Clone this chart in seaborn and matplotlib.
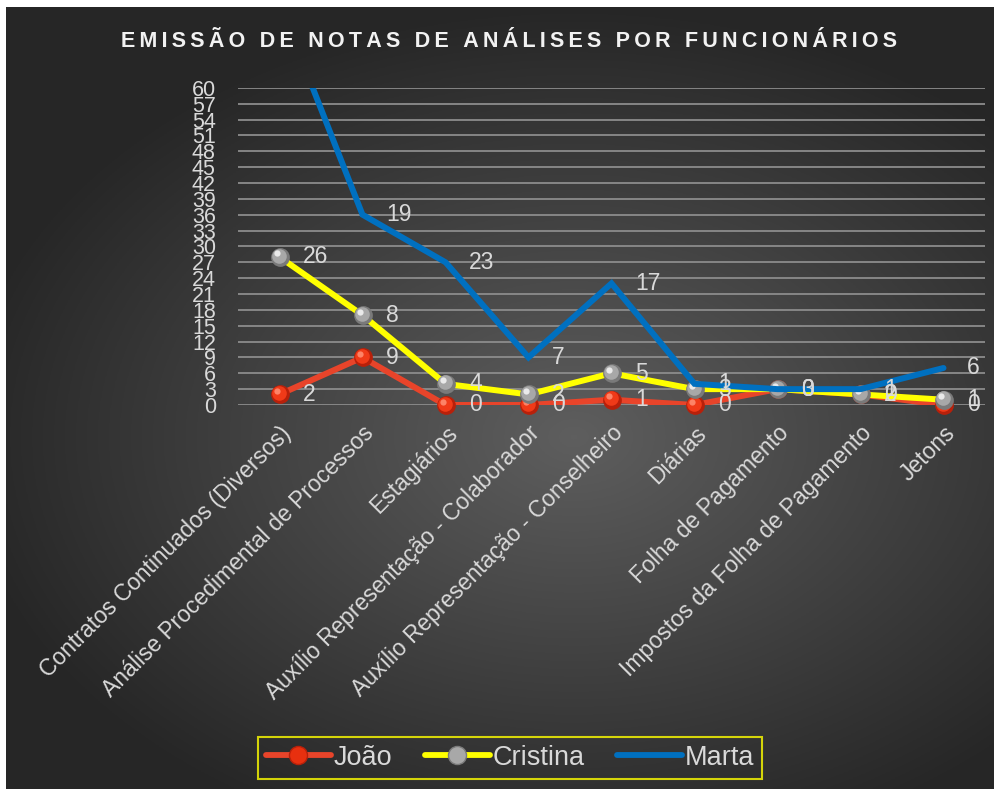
import numpy as np
import pandas as pd
import matplotlib
matplotlib.use("Agg")
import matplotlib.pyplot as plt
import matplotlib.transforms as mtransforms
from matplotlib.lines import Line2D
import seaborn as sns

categorias = [
    "Contratos Continuados (Diversos)",
    "Análise Procedimental de Processos",
    "Estagiários",
    "Auxílio Representação - Colaborador",
    "Auxílio Representação - Conselheiro",
    "Diárias",
    "Folha de Pagamento",
    "Impostos da Folha de Pagamento",
    "Jetons",
]
joao = [2, 9, 0, 0, 1, 0, 3, 2, 0]
cristina = [26, 8, 4, 2, 5, 3, 0, 0, 1]
marta = [48, 19, 23, 7, 17, 1, 0, 1, 6]
series = ["João", "Cristina", "Marta"]
y_ticks = list(range(0, 61, 3))

sns.set_theme(style="dark")
plt.rcParams['font.family'] = ['Liberation Sans', 'DejaVu Sans']

cores = {"João": "#e8442a", "Cristina": "#ffff00", "Marta": "#0070c0"}
ordem = {"João": 3, "Cristina": 5, "Marta": 7}
texto = "#d9d9d9"

# linhas empilhadas (como no gráfico original do Excel)
x = np.arange(len(categorias))
valores = {"João": joao, "Cristina": cristina, "Marta": marta}
acum = np.zeros(len(categorias))
linhas = []
for s in series:
    v = np.array(valores[s], dtype=float)
    acum = acum + v
    linhas.append(pd.DataFrame({"x": x, "y": acum.copy(), "valor": v, "serie": s}))
df = pd.concat(linhas, ignore_index=True)

fig = plt.figure(figsize=(10, 7.91), dpi=100)
fig.patch.set_facecolor("white")

# fundo com degradê radial
bg = fig.add_axes([0.006, 0.003, 0.988, 0.988], zorder=-10)
gx, gy = np.meshgrid(np.linspace(-1, 1, 400), np.linspace(-1, 1, 320))
r = np.sqrt(((gx - 0.15) / 1.25) ** 2 + ((gy - 0.1) / 1.1) ** 2)
r = np.clip(r, 0, 1)
c0 = np.array([0.37, 0.37, 0.37])
c1 = np.array([0.15, 0.15, 0.15])
img = c0[None, None, :] * (1 - r[..., None]) + c1[None, None, :] * r[..., None]
bg.imshow(img, aspect="auto", extent=[0, 1, 0, 1])
bg.axis("off")

ax = fig.add_axes([0.238, 0.488, 0.747, 0.401])
ax.set_facecolor("none")

for s in series:
    d = df[df["serie"] == s]
    sns.lineplot(data=d, x="x", y="y", color=cores[s], linewidth=4.3,
                 ax=ax, zorder=ordem[s],
                 solid_capstyle="round", solid_joinstyle="miter")

# marcadores em forma de esfera
marc = {"João": ("#b8200a", "#f03a18", "#ff8c70"),
        "Cristina": ("#7a7a7a", "#a8a8a8", "#f2f2f2")}
for s, (escuro, medio, claro) in marc.items():
    d = df[df["serie"] == s]
    z = ordem[s] + 1
    ax.plot(d["x"], d["y"], "o", ms=13.5, color=escuro, mec="none", zorder=z, clip_on=False)
    t1 = mtransforms.offset_copy(ax.transData, fig=fig, x=-0.5, y=1, units="points")
    ax.plot(d["x"], d["y"], "o", ms=10.5, color=medio, mec="none", zorder=z, transform=t1, clip_on=False)
    t2 = mtransforms.offset_copy(ax.transData, fig=fig, x=-1.5, y=2.5, units="points")
    ax.plot(d["x"], d["y"], "o", ms=4.5, color=claro, mec="none", zorder=z, alpha=0.9,
            transform=t2, clip_on=False)

# rótulos de dados
for _, row in df.iterrows():
    if row["y"] > 60:
        continue
    ax.annotate(f"{int(row['valor'])}", (row["x"], row["y"]), xytext=(17, 0),
                textcoords="offset points", ha="left", va="center",
                fontsize=16.5, color=texto, zorder=9)

ax.set_xlim(-0.5, len(categorias) - 0.5)
ax.set_ylim(0, 60)
ax.set_yticks(y_ticks)
ax.set_yticklabels([str(t) for t in y_ticks], fontsize=15.5, color=texto)
ax.set_xticks(x)
ax.set_xticklabels(categorias, rotation=45, ha="right", rotation_mode="anchor",
                   fontsize=16.5, color=texto)
ax.tick_params(axis="x", length=0, pad=12)
ax.tick_params(axis="y", length=0, pad=16)
ax.grid(axis="y", color="#8c8c8c", linewidth=1.3)
ax.grid(axis="x", visible=False)
for sp in ax.spines.values():
    sp.set_visible(False)
ax.set_xlabel("")
ax.set_ylabel("")

titulo = "EMISSÃO DE NOTAS DE ANÁLISES POR FUNCIONÁRIOS"
titulo = "\u2009".join(titulo)
fig.text(0.509, 0.947, titulo, ha="center", va="center", fontsize=15.5,
         fontweight="bold", color="#f2f2f2")

handles = [
    Line2D([], [], color=cores["João"], lw=4.2, marker="o", ms=13,
           mfc="#e8300f", mec="#b8200a", label="João"),
    Line2D([], [], color=cores["Cristina"], lw=4.2, marker="o", ms=13,
           mfc="#a8a8a8", mec="#7a7a7a", label="Cristina"),
    Line2D([], [], color=cores["Marta"], lw=4.2, label="Marta"),
]
leg = fig.legend(handles=handles, loc="center", bbox_to_anchor=(0.51, 0.042),
                 ncol=3, frameon=True, fontsize=19.5, handlelength=2.4,
                 handletextpad=0.1, columnspacing=1.2, borderpad=0.3,
                 fancybox=False)
leg.get_frame().set_edgecolor("#ffff00")
leg.get_frame().set_facecolor("none")
leg.get_frame().set_linewidth(1.5)
for t in leg.get_texts():
    t.set_color(texto)

fig.savefig("out.png", dpi=100)
